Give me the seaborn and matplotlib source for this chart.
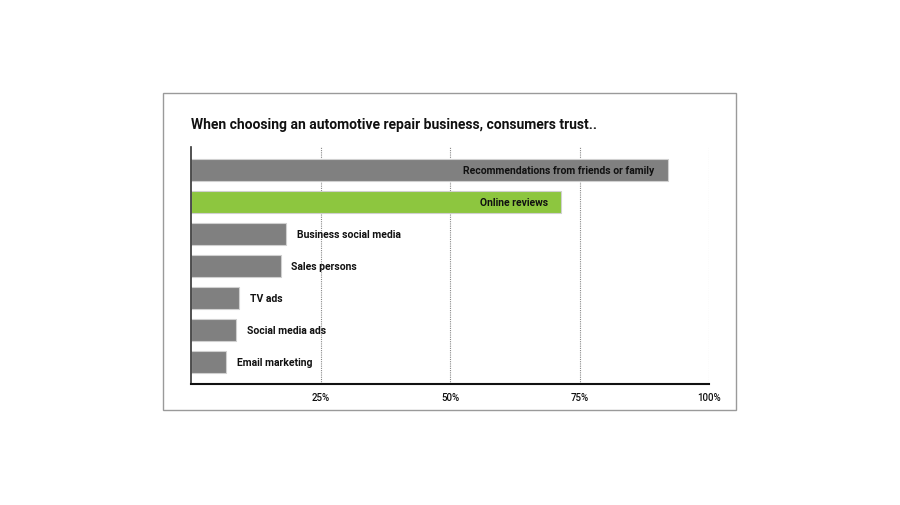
import matplotlib
matplotlib.use("Agg")
import matplotlib.pyplot as plt
import seaborn as sns
import pandas as pd
from matplotlib.patches import Rectangle

categories = ["Recommendations from friends or family", "Online reviews",
              "Business social media", "Sales persons", "TV ads",
              "Social media ads", "Email marketing"]
values = [92, 71.5, 18.3, 17.3, 9.3, 8.7, 6.8]
tick_values = [25, 50, 75, 100]
tick_labels = ["25%", "50%", "75%", "100%"]
title = "When choosing an automotive repair business, consumers trust.."

gray = "#808080"
green = "#8DC63F"
colors = [gray, green, gray, gray, gray, gray, gray]

sns.set_style("white")
plt.rcParams['font.family'] = ['Roboto', 'DejaVu Sans']

df = pd.DataFrame({"cat": categories, "val": values})

fig = plt.figure(figsize=(9, 5.06), dpi=100)
fig.patch.set_facecolor("white")
# outer frame
fig.add_artist(Rectangle((163/900, 1-411/506), (736-163)/900, (411-94)/506,
                         transform=fig.transFigure, fill=False,
                         edgecolor="#9a9a9a", linewidth=1.0))

ax = fig.add_axes([191/900, 1-385/506, (709-191)/900, (385-148)/506])
sns.barplot(data=df, y="cat", x="val", hue="cat", palette=colors, legend=False,
            orient="h", width=0.68, ax=ax, edgecolor="#d0d0d0", linewidth=0.8,
            saturation=1)

ax.set_xlim(0, 100)
ax.set_ylim(6.69, -0.73)
ax.set_xlabel("")
ax.set_ylabel("")
ax.set_yticks([])
ax.set_xticks(tick_values)
ax.set_xticklabels(tick_labels, fontsize=7, color="#111111", fontweight="medium")
ax.tick_params(axis="x", length=0, pad=6)
for v in tick_values:
    ax.axvline(v, color="#888888" if v < 100 else "#bbbbbb",
               linestyle=(0, (1, 1)), linewidth=0.8, zorder=0)
for s in ["top", "right"]:
    ax.spines[s].set_visible(False)
ax.spines["left"].set_color("#333333")
ax.spines["left"].set_linewidth(1.2)
ax.spines["bottom"].set_color("#111111")
ax.spines["bottom"].set_linewidth(1.5)

for i, (c, v) in enumerate(zip(categories, values)):
    if v > 50:
        ax.text(v - 2.6, i, c, ha="right", va="center", fontsize=7.5,
                fontweight="bold", color="#111111")
    else:
        ax.text(v + 2.1, i, c, ha="left", va="center", fontsize=7.5,
                fontweight="bold", color="#111111")

fig.text(191/900, 1-125/506, title, ha="left", va="center", fontsize=10,
         fontweight="semibold", color="#111111")

fig.savefig("out.png", dpi=100, facecolor="white")
